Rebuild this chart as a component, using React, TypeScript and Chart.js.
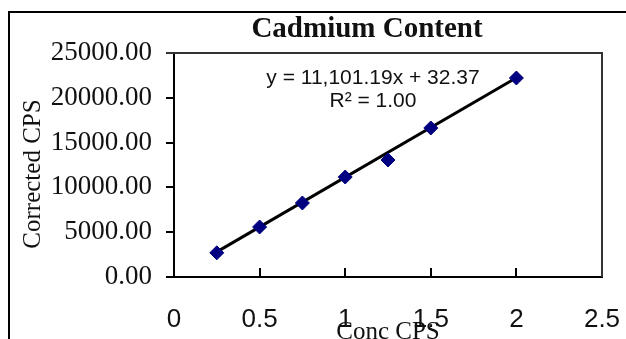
import React, { useEffect, useRef } from "react";
import { Chart, registerables } from "chart.js";

Chart.register(...registerables);

const concValues = [0.25, 0.5, 0.75, 1.0, 1.25, 1.5, 2.0];
const correctedCps = [2700, 5580, 8260, 11160, 13060, 16630, 22210];
const trendSlope = 11101.19;
const trendIntercept = 32.37;
const yTickMax = 25000;
const yTickStep = 5000;
const xTickMax = 2.5;
const xTickStep = 0.5;
const titleText = "Cadmium Content";
const xTitleText = "Conc CPS";
const yTitleText = "Corrected CPS";
const equationText = "y = 11,101.19x + 32.37";
const r2Text = "R\u00B2 = 1.00";

const SERIF = '"Liberation Serif", "Times New Roman", serif';
const SANS = '"Liberation Sans", Arial, sans-serif';

const decorPlugin = {
  id: "decor",
  afterDraw(chart: any) {
    const { ctx, chartArea } = chart;
    const xs = chart.scales.x;
    ctx.save();
    // outer frame (left & top visible)
    ctx.strokeStyle = "#000";
    ctx.lineWidth = 2;
    ctx.beginPath();
    ctx.moveTo(9, 339);
    ctx.lineTo(9, 12);
    ctx.lineTo(626, 12);
    ctx.stroke();
    // plot area top & right border
    ctx.strokeStyle = "#333";
    ctx.beginPath();
    ctx.moveTo(chartArea.left - 8, chartArea.top);
    ctx.lineTo(chartArea.right, chartArea.top);
    ctx.lineTo(chartArea.right, chartArea.bottom);
    ctx.stroke();
    // inner x tick marks
    ctx.strokeStyle = "#000";
    for (let v = xTickStep; v < xTickMax - 1e-9; v += xTickStep) {
      const px = Math.round(xs.getPixelForValue(v));
      ctx.beginPath();
      ctx.moveTo(px, chartArea.bottom);
      ctx.lineTo(px, chartArea.bottom - 9);
      ctx.stroke();
    }
    // title
    ctx.fillStyle = "#111";
    ctx.textAlign = "center";
    ctx.textBaseline = "middle";
    ctx.font = `bold 29px ${SERIF}`;
    ctx.fillText(titleText, 367, 30);
    // equation
    ctx.font = `21px ${SANS}`;
    ctx.fillText(equationText, 373, 78);
    ctx.fillText(r2Text, 373, 101);
    // x title
    ctx.font = `25px ${SERIF}`;
    ctx.textBaseline = "alphabetic";
    ctx.fillText(xTitleText, 388, 339);
    // y title
    ctx.translate(33, 174);
    ctx.rotate(-Math.PI / 2);
    ctx.textBaseline = "middle";
    ctx.font = `25px ${SERIF}`;
    ctx.fillText(yTitleText, 0, 0);
    ctx.restore();
  },
};

export default function App() {
  const ref = useRef<HTMLCanvasElement | null>(null);

  useEffect(() => {
    if (!ref.current) return;
    const x0 = concValues[0];
    const x1 = concValues[concValues.length - 1];
    const chart = new Chart(ref.current, {
      type: "scatter",
      data: {
        datasets: [
          {
            label: "Corrected CPS",
            data: concValues.map((x, i) => ({ x, y: correctedCps[i] })),
            backgroundColor: "#000080",
            borderColor: "#000080",
            pointStyle: "rectRot",
            pointRadius: 7,
            pointBorderWidth: 1,
            showLine: false,
          },
          {
            label: "Trendline",
            data: [
              { x: x0, y: trendSlope * x0 + trendIntercept },
              { x: x1, y: trendSlope * x1 + trendIntercept },
            ],
            showLine: true,
            borderColor: "#000",
            borderWidth: 3,
            pointRadius: 0,
          },
        ],
      },
      options: {
        animation: false,
        responsive: false,
        layout: { padding: { top: 53, right: 24, bottom: 0, left: 0 } },
        plugins: {
          legend: { display: false },
          title: { display: false },
          tooltip: { enabled: false },
        },
        scales: {
          x: {
            type: "linear",
            min: 0,
            max: xTickMax,
            afterFit: (s: any) => {
              s.height = 62;
              s.paddingLeft = 0;
              s.paddingRight = 0;
            },
            grid: { display: false },
            border: { display: true, color: "#000", width: 2 },
            ticks: {
              stepSize: xTickStep,
              autoSkip: false,
              maxRotation: 0,
              padding: 19,
              color: "#111",
              font: { family: SANS, size: 26 },
              callback: (v: any) => String(v),
            },
          },
          y: {
            type: "linear",
            min: 0,
            max: yTickMax,
            afterFit: (s: any) => {
              s.width = 174;
              s.paddingTop = 0;
              s.paddingBottom = 0;
            },
            grid: {
              display: true,
              drawOnChartArea: false,
              drawTicks: true,
              tickLength: 8,
              color: "#000",
              lineWidth: 2,
            },
            border: { display: true, color: "#000", width: 2 },
            ticks: {
              stepSize: yTickStep,
              padding: 14,
              color: "#111",
              font: { family: SERIF, size: 27 },
              callback: (v: any) => Number(v).toFixed(2),
            },
          },
        },
      },
      plugins: [decorPlugin],
    });
    return () => chart.destroy();
  }, []);

  return (
    <div style={{ position: "fixed", left: 0, top: 0, width: 626, height: 339, background: "#fff" }}>
      <canvas ref={ref} width={626} height={339} style={{ display: "block", width: 626, height: 339 }} />
    </div>
  );
}
